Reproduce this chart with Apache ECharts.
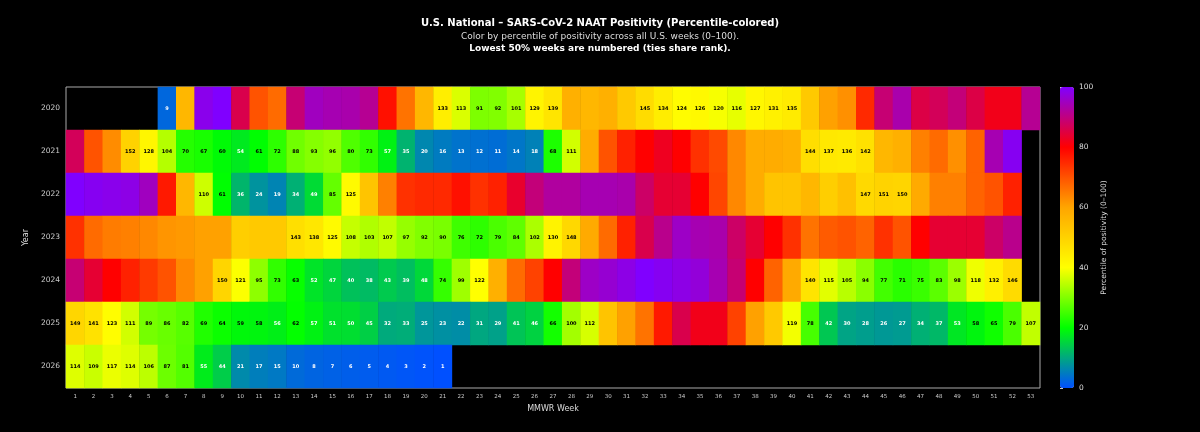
<!DOCTYPE html>
<html>
<head>
<meta charset="utf-8">
<script src="https://cdn.jsdelivr.net/npm/echarts@6/dist/echarts.min.js"></script>
<style>
  html, body { margin: 0; padding: 0; background: #000; }
  #main { width: 1200px; height: 432px; }
</style>
</head>
<body>
<div id="main"></div>
<script>
var _ = null;
var years = ['2020', '2021', '2022', '2023', '2024', '2025', '2026'];
var weeks = [];
for (var i = 1; i <= 53; i++) weeks.push(String(i));
var colorTicks = [0, 20, 40, 60, 80, 100];

// rank shown in the cell (lowest 50% of weeks), null = no label
var rank2020 = [_, _, _, _, _, 9, _, _, _, _, _, _, _, _, _, _, _, _, _, _, 133, 113, 91, 92, 101, 129, 139, _, _, _, _, 145, 134, 124, 126, 120, 116, 127, 131, 135, _, _, _, _, _, _, _, _, _, _, _, _, _];
var rank2021 = [_, _, _, 152, 128, 104, 70, 67, 60, 54, 61, 72, 88, 93, 96, 80, 73, 57, 35, 20, 16, 13, 12, 11, 14, 18, 68, 111, _, _, _, _, _, _, _, _, _, _, _, _, 144, 137, 136, 142, _, _, _, _, _, _, _, _, _];
var rank2022 = [_, _, _, _, _, _, _, 110, 61, 36, 24, 19, 34, 49, 85, 125, _, _, _, _, _, _, _, _, _, _, _, _, _, _, _, _, _, _, _, _, _, _, _, _, _, _, _, 147, 151, 150, _, _, _, _, _, _, _];
var rank2023 = [_, _, _, _, _, _, _, _, _, _, _, _, 143, 138, 125, 108, 103, 107, 97, 92, 90, 76, 72, 79, 84, 102, 130, 148, _, _, _, _, _, _, _, _, _, _, _, _, _, _, _, _, _, _, _, _, _, _, _, _, _];
var rank2024 = [_, _, _, _, _, _, _, _, 150, 121, 95, 73, 63, 52, 47, 40, 38, 43, 39, 48, 74, 99, 122, _, _, _, _, _, _, _, _, _, _, _, _, _, _, _, _, _, 140, 115, 105, 94, 77, 71, 75, 83, 98, 118, 132, 146, _];
var rank2025 = [149, 141, 123, 111, 89, 86, 82, 69, 64, 59, 58, 56, 62, 57, 51, 50, 45, 32, 33, 25, 23, 22, 31, 29, 41, 46, 66, 100, 112, _, _, _, _, _, _, _, _, _, _, 119, 78, 42, 30, 28, 26, 27, 34, 37, 53, 58, 65, 79, 107];
var rank2026 = [114, 109, 117, 114, 106, 87, 81, 55, 44, 21, 17, 15, 10, 8, 7, 6, 5, 4, 3, 2, 1, _, _, _, _, _, _, _, _, _, _, _, _, _, _, _, _, _, _, _, _, _, _, _, _, _, _, _, _, _, _, _, _];

// percentile of the unnumbered weeks
var pct2020 = [_, _, _, _, _, _, 56, 98.5, 100, 86, 70, 67, 89, 95, 94, 93.5, 91.5, 78, 66, 56, _, _, _, _, _, _, _, 57.5, 56, 57.5, 52, _, _, _, _, _, _, _, _, _, 52, 60.5, 62.5, 75, 89, 93.5, 85.5, 87, 89.5, 85.5, 82, 82, 91.5];
var pct2021 = [87, 70, 63, _, _, _, _, _, _, _, _, _, _, _, _, _, _, _, _, _, _, _, _, _, _, _, _, _, 58.5, 70, 76, 80, 82.5, 80, 74, 71, 63.5, 58.5, 58.5, 57.5, _, _, _, _, 56, 57.5, 64.5, 67, 62.5, 68, 94, 99, _];
var pct2022 = [100, 99, 98.5, 98, 95, 77, 56, _, _, _, _, _, _, _, _, _, 53, 64.5, 74, 75, 75, 78, 74, 76, 83.5, 89.5, 92.5, 92.5, 94, 94, 93.5, 88, 84, 84, 80, 71.5, 63.5, 58.5, 53, 53, 56, 51, 54, _, _, _, 59, 64.5, 64.5, 68, 70, 76, _];
var pct2023 = [74, 67, 65, 64.5, 63.5, 62, 61.5, 60.5, 60.5, 51, 52, 52, _, _, _, _, _, _, _, _, _, _, _, _, _, _, _, _, 59, 67, 76, 86, 91, 95.5, 94, 93.5, 88, 84, 80, 74, 66, 69, 70, 68, 74, 70, 80, 84, 84, 84, 88, 91, _];
var pct2024 = [89, 84, 80, 76, 73, 70, 63.5, 60.5, _, _, _, _, _, _, _, _, _, _, _, _, _, _, _, 57.5, 67, 72, 80, 89.5, 95.5, 96.5, 98, 100, 99, 98, 97, 94, 89, 80, 68, 59, _, _, _, _, _, _, _, _, _, _, _, _, _];
var pct2025 = [_, _, _, _, _, _, _, _, _, _, _, _, _, _, _, _, _, _, _, _, _, _, _, _, _, _, _, _, _, 53, 60.5, 66, 77, 86, 82, 82, 72, 60.5, 52, _, _, _, _, _, _, _, _, _, _, _, _, _, _];
var pct2026 = [];

var ranks = [rank2020, rank2021, rank2022, rank2023, rank2024, rank2025, rank2026];
var pcts = [pct2020, pct2021, pct2022, pct2023, pct2024, pct2025, pct2026];
var maxRank = 152;

// numbered weeks are the lowest half
function rankPct(r) {
	return (r - 1) / (maxRank - 1) * 50;
}

var cellData = [];
years.forEach(function(y, yi) {
	for (var w = 0; w < 53; w++) {
		var r = ranks[yi][w], p = pcts[yi][w];
		if (r != null) {
			cellData.push({
				value: [w, yi, rankPct(r), r],
				label: { color: r < 58 ? '#fff' : '#000' }
			});
		} else if (p != null) {
			cellData.push({ value: [w, yi, p, 0] });
		}
	}
});

var font = 'DejaVu Sans';
var myChart = echarts.init(document.getElementById('main'));
var option = {
	backgroundColor: '#000',
	animation: false,
	title: [{
		text: 'U.S. National \u2013 SARS-CoV-2 NAAT Positivity (Percentile-colored)',
		left: 'center',
		top: 13,
		textStyle: { color: '#fff', fontFamily: font, fontSize: 10, fontWeight: 'bold' }
	}, {
		text: 'Color by percentile of positivity across all U.S. weeks (0\u2013100).',
		left: 'center',
		top: 27,
		textStyle: { color: '#ddd', fontFamily: font, fontSize: 9, fontWeight: 'normal' }
	}, {
		text: 'Lowest 50% weeks are numbered (ties share rank).',
		left: 'center',
		top: 39,
		textStyle: { color: '#fff', fontFamily: font, fontSize: 9, fontWeight: 'bold' }
	}],
	grid: [{
		left: 66,
		top: 87,
		width: 974,
		height: 301,
		show: true,
		backgroundColor: '#000',
		borderColor: '#aaa',
		borderWidth: 1
	}, {
		left: 1060,
		top: 87,
		width: 14,
		height: 301,
		show: false
	}],
	xAxis: [{
		type: 'category',
		data: weeks,
		gridIndex: 0,
		axisLine: { show: false },
		axisTick: { show: false },
		splitLine: { show: false },
		axisLabel: { interval: 0, color: '#ccc', fontFamily: font, fontSize: 5.5, margin: 6 },
		name: 'MMWR Week',
		nameLocation: 'middle',
		nameGap: 16,
		nameTextStyle: { color: '#ddd', fontFamily: font, fontSize: 8 }
	}, {
		type: 'value',
		gridIndex: 1,
		show: false,
		min: 0,
		max: 1
	}],
	yAxis: [{
		type: 'category',
		data: years,
		inverse: true,
		gridIndex: 0,
		axisLine: { show: false },
		axisTick: { show: false },
		splitLine: { show: false },
		axisLabel: { color: '#ccc', fontFamily: font, fontSize: 7.5, margin: 6 },
		name: 'Year',
		nameLocation: 'middle',
		nameRotate: 90,
		nameGap: 27,
		nameTextStyle: { color: '#ddd', fontFamily: font, fontSize: 8 }
	}, {
		type: 'value',
		gridIndex: 1,
		position: 'right',
		min: colorTicks[0],
		max: colorTicks[colorTicks.length - 1],
		interval: 20,
		axisLine: { show: false },
		axisTick: { show: true, length: 3, lineStyle: { color: '#ccc' } },
		splitLine: { show: false },
		axisLabel: { color: '#ddd', fontFamily: font, fontSize: 7.5, margin: 5 },
		name: 'Percentile of positivity (0\u2013100)',
		nameLocation: 'middle',
		nameRotate: 90,
		nameGap: 26,
		nameTextStyle: { color: '#ddd', fontFamily: font, fontSize: 7.5 }
	}],
	visualMap: {
		type: 'continuous',
		min: 0,
		max: 100,
		dimension: 2,
		seriesIndex: 0,
		orient: 'vertical',
		left: 1060,
		top: 87,
		itemWidth: 14,
		itemHeight: 301,
		padding: 0,
		calculable: false,
		hoverLink: false,
		text: null,
		inRange: {
			color: ['#0050ff', '#00ff00', '#ffff00', '#ffa500', '#ff0000', '#8000ff']
		}
	},
	series: [{
		type: 'heatmap',
		xAxisIndex: 0,
		yAxisIndex: 0,
		data: cellData,
		itemStyle: { borderWidth: 0 },
		emphasis: { disabled: true },
		label: {
			show: true,
			fontFamily: font,
			fontSize: 5,
			fontWeight: 'bold',
			formatter: function(p) {
				return p.value[3] ? p.value[3] : '';
			}
		}
	}]
};
myChart.setOption(option);
</script>
</body>
</html>
